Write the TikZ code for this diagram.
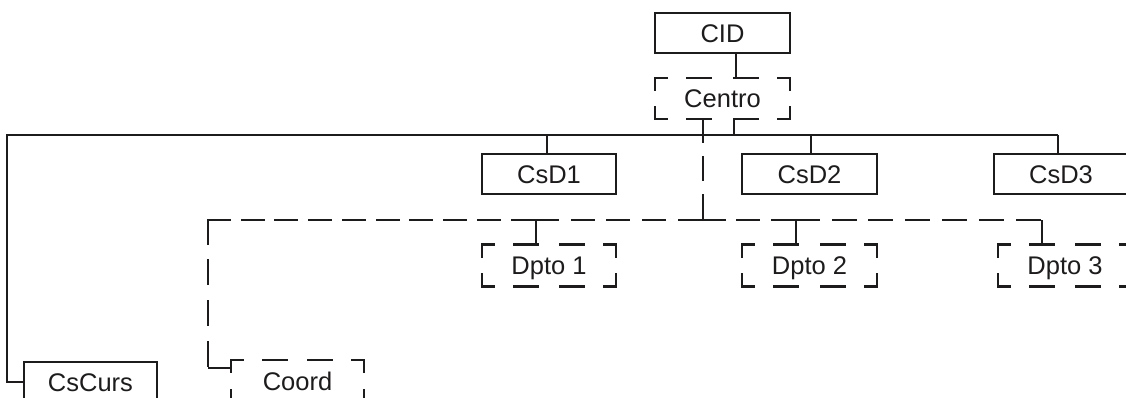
\documentclass[tikz,border=0pt]{standalone}
\usepackage{fontspec}
\setmainfont{Liberation Sans}
\definecolor{ink}{RGB}{30,27,28}
\tikzset{
  box/.style={minimum width=134pt, minimum height=41pt, inner sep=0pt, outer sep=0pt,
    text height=18.5pt, text depth=0pt, font=\fontsize{25.5}{30}\selectfont, text=ink},
  solidbox/.style={box, draw=ink, line width=2.5pt},
  wire/.style={draw=ink, line width=2.5pt},
  % dashed connector piece: dash length and gap chosen so it ends on a dash
  dseg/.style 2 args={wire, line cap=rect, dash pattern=on #1 off #2},
  dside/.style={wire, line cap=rect, dash pattern=on 24pt off 20pt, dash phase=12pt},
}
% dashed frame: every side is dashed from both corners towards its middle
\newcommand\dashframe[1]{%
  \draw[dside] (#1.north west) -- (#1.north);
  \draw[dside] (#1.north east) -- (#1.north);
  \draw[dside] (#1.south west) -- (#1.south);
  \draw[dside] (#1.south east) -- (#1.south);
  \draw[dside] (#1.north west) -- (#1.west);
  \draw[dside] (#1.south west) -- (#1.west);
  \draw[dside] (#1.north east) -- (#1.east);
  \draw[dside] (#1.south east) -- (#1.east);
}
\begin{document}
\begin{tikzpicture}[x=1pt,y=-1pt]
\clip (0,0) rectangle (1126,398);

% boxes
\node[solidbox, minimum width=135pt, minimum height=40pt] (cid) at (722.5,33) {CID};
\node[box, minimum width=135pt] (centro) at (722.5,98.5) {Centro};
\node[solidbox, minimum height=40pt] (csd1) at (549,174) {CsD1};
\node[solidbox, minimum width=135pt, minimum height=40pt] (csd2) at (809.5,174) {CsD2};
\node[solidbox, minimum height=40pt] (csd3) at (1061,174) {CsD3};
\node[box, minimum height=42pt] (dpto1) at (549,265.5) {Dpto 1};
\node[box, minimum width=135pt, minimum height=42pt] (dpto2) at (809.5,265.5) {Dpto 2};
\node[box, minimum height=42pt] (dpto3) at (1065,265.5) {Dpto 3};
\node[solidbox, minimum width=133pt, minimum height=40pt] (cscurs) at (90.5,382) {CsCurs};
\node[box, minimum width=133pt, minimum height=42pt] (coord) at (297.5,381) {Coord};

\dashframe{centro}
\dashframe{dpto1}
\dashframe{dpto2}
\dashframe{dpto3}
\dashframe{coord}

% junction points
\coordinate (cidDrop) at (736,0);
\coordinate (solidDrop) at (734,0);
\coordinate (dashDrop) at (703,0);
\coordinate (busL) at (7,135);
\coordinate (busR) at (1058,135);
\coordinate (c1) at (547,135);
\coordinate (c2) at (811,135);
\coordinate (dbusL) at (208,220);
\coordinate (dbusM) at (703,220);
\coordinate (dbusR) at (1042,220);
\coordinate (d1) at (536,220);
\coordinate (d2) at (796,220);
\coordinate (coordIn) at (208,368);

% solid tree
\draw[wire] (cid.south -| cidDrop) -- (centro.north -| cidDrop);
\draw[wire] (centro.south -| solidDrop) -- (solidDrop |- busL);
\draw[wire] (busR) -- (busL) |- (cscurs.west);
\draw[wire] (c1) -- (c1 |- csd1.north);
\draw[wire] (c2) -- (c2 |- csd2.north);
\draw[wire] (busR) -- (busR |- csd3.north);

% dashed tree
\draw[dseg={22.5pt}{15.5pt}] (centro.south -| dashDrop) -- (dbusM);
\draw[dseg={21.5pt}{12.28pt}] (dbusL) -- (d1);
\draw[dseg={21.5pt}{14.25pt}] (d1) -- (dbusM);
\draw[dseg={21.5pt}{13pt}] (dbusM) -- (d2);
\draw[dseg={22.5pt}{14.33pt}] (d2) -- (dbusR);
\draw[dseg={23.5pt}{17.17pt}] (dbusL) -- (coordIn);
\draw[wire] (coordIn) -- (coordIn -| coord.west);
\draw[wire] (d1) -- (d1 |- dpto1.north);
\draw[wire] (d2) -- (d2 |- dpto2.north);
\draw[wire] (dbusR) -- (dbusR |- dpto3.north);
\end{tikzpicture}
\end{document}
